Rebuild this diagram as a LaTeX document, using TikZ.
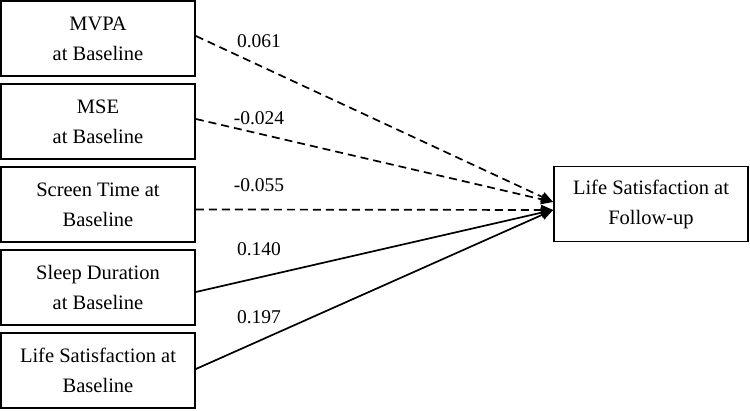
\documentclass[tikz,border=0pt]{standalone}
\usepackage{fontspec}
\setmainfont{Liberation Serif}
\usetikzlibrary{arrows.meta,calc}
\begin{document}
\begin{tikzpicture}[x=1pt,y=1pt,
  varbox/.style={draw, line width=1.8pt, minimum width=194pt, minimum height=75pt,
    inner sep=0pt, align=center, font=\fontsize{20.5}{30}\selectfont},
  path/.style={line width=1.7pt, -{Triangle[length=12pt,width=10pt]}},
  dpath/.style={path, dash pattern=on 8pt off 5pt},
  coef/.style={font=\fontsize{19.5}{24}\selectfont, inner sep=0pt}]
\useasboundingbox (0,0) rectangle (750,411);
\node[varbox] (b1) at (98,372.5) {MVPA\\at Baseline};
\node[varbox] (b2) at (98,289.5) {MSE\\at Baseline};
\node[varbox] (b3) at (98,206.5) {Screen Time at\\Baseline};
\node[varbox] (b4) at (98,123.5) {Sleep Duration\\at Baseline};
\node[varbox] (b5) at (98,40.5) {Life Satisfaction at\\Baseline};
\node[varbox] (r) at (651,207) {Life Satisfaction at\\Follow-up};
\draw[dpath] ([yshift=2.5pt]b1.east) -- ([yshift=2pt]r.west);
\draw[dpath] ([yshift=2.5pt]b2.east) -- ([yshift=2pt]r.west);
\draw[dpath] ([yshift=-5pt]b3.east) -- ([yshift=-6pt]r.west);
\draw[path] ([yshift=-4.5pt]b4.east) -- ([yshift=-6pt]r.west);
\draw[path] ([yshift=1.5pt]b5.east) -- ([yshift=-6pt]r.west);
\node[coef] (c1) at (259,370) {0.061};
\node[coef] (c2) at (259,293) {-0.024};
\node[coef] (c3) at (259,225.5) {-0.055};
\node[coef] (c4) at (259,162) {0.140};
\node[coef] (c5) at (259,94) {0.197};
\end{tikzpicture}
\end{document}
